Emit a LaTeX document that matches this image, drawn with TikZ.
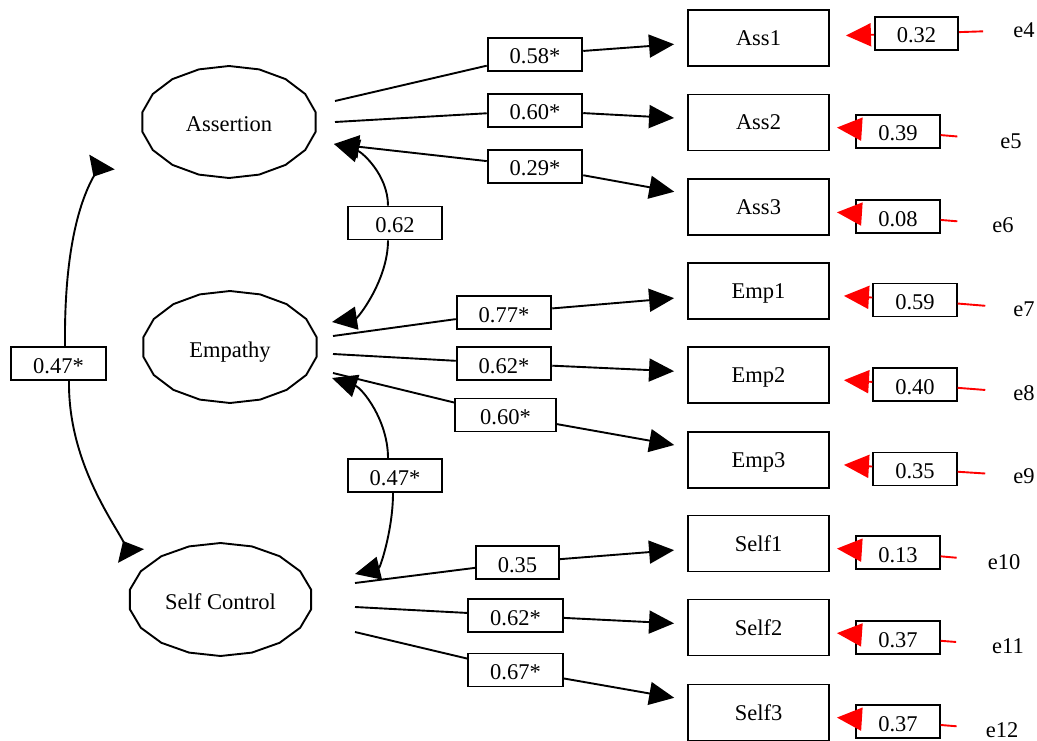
\documentclass[tikz,border=0pt]{standalone}
\usepackage{fontspec}
\setmainfont{Liberation Serif}
\usetikzlibrary{shapes.geometric,arrows.meta}

\tikzset{
  every node/.style={font=\fontsize{22.5}{26}\selectfont},
  latent/.style={ellipse, inner sep=0pt, minimum width=176pt, minimum height=112pt, text height=20pt, text depth=0pt},
  obs/.style={draw, line width=1.9pt, minimum width=141pt, minimum height=56pt, inner sep=0pt, text height=15pt, text depth=0pt},
  coef/.style={draw, fill=white, line width=1.9pt, minimum height=33pt, inner xsep=22pt, inner ysep=0pt, text height=19pt, text depth=0pt},
  errnode/.style={inner sep=2pt},
  seg/.style={line width=1.9pt},
  endhead/.style={-{Triangle[length=25pt,width=23pt]}},
  revhead/.style={-{Triangle[reversed,length=17pt,width=29pt]}},
  load/.style={seg, endhead, shorten >=13pt},
  resid/.style={red, line width=1.9pt},
}

\begin{document}
\begin{tikzpicture}[x=1pt,y=-1pt]
	\useasboundingbox (0,0) rectangle (1037,741);
	% latent variables
	\node[latent] (ass) at (229,122) {Assertion};
	\node[latent] (emp) at (230,347) {Empathy};
	\node[latent, minimum width=184pt, minimum height=113pt] (sc) at (220.5,599.5) {Self Control};
	\foreach \n/\rx/\ry in {ass/88/56, emp/88/56, sc/92/56.5}
		\draw[seg, shift={(\n.center)}] plot[samples at={10,30,...,350}] ({\rx*cos(\x)},{\ry*sin(\x)}) -- cycle;
	
	% indicators
	\node[obs] (ass1) at (758.5,38) {Ass1};
	\node[obs] (ass2) at (758.5,122.5) {Ass2};
	\node[obs] (ass3) at (758.5,207) {Ass3};
	\node[obs] (emp1) at (758.5,291) {Emp1};
	\node[obs] (emp2) at (758.5,375) {Emp2};
	\node[obs] (emp3) at (758.5,460) {Emp3};
	\node[obs] (self1) at (758.5,543.5) {Self1};
	\node[obs] (self2) at (758.5,627.5) {Self2};
	\node[obs] (self3) at (758.5,712.5) {Self3};
	
	% ports beside the latent variables
	\coordinate (pa1) at (335,101);
	\coordinate (pa2) at (335,122);
	\coordinate (pa3) at (334,144);
	\coordinate (pe0) at (332,322);
	\coordinate (pe1) at (333,336);
	\coordinate (pe2) at (333,354);
	\coordinate (pe3) at (333,373);
	\coordinate (pe4) at (332,378);
	\coordinate (ps0) at (355,574);
	\coordinate (ps1) at (355,583);
	\coordinate (ps2) at (355,607);
	\coordinate (ps3) at (355,632);
	\coordinate (pat) at (102,162);
	\coordinate (psc) at (131,556);
	
	% coefficients
	\node[coef] (la1) at (535,54.5) {0.58*};
	\node[coef] (la2) at (535,110.5) {0.60*};
	\node[coef] (la3) at (535,166.5) {0.29*};
	\node[coef] (le1) at (504,312.5) {0.77*};
	\node[coef] (le2) at (504,363.5) {0.62*};
	\node[coef, minimum width=101pt] (le3) at (505.5,415) {0.60*};
	\node[coef] (ls1) at (517.5,562.5) {0.35};
	\node[coef] (ls2) at (515.5,615.5) {0.62*};
	\node[coef] (ls3) at (515.5,670) {0.67*};
	\node[coef, minimum width=94pt] (cae) at (395,223) {0.62};
	\node[coef] (ces) at (395,475.5) {0.47*};
	\node[coef] (cas) at (58.5,363.5) {0.47*};
	
	% loadings
	\draw[seg] (pa1) -- (la1); \draw[load] (la1) -- (ass1);
	\draw[seg] (pa2) -- (la2); \draw[load] (la2) -- (ass2);
	\draw[seg, endhead] (la3) -- (pa3); \draw[load] (la3) -- (ass3);
	\draw[seg] (pe1) -- (le1); \draw[load] (le1) -- (emp1);
	\draw[seg] (pe2) -- (le2); \draw[load] (le2) -- (emp2);
	\draw[seg] (pe3) -- (le3); \draw[load] (le3) -- (emp3);
	\draw[seg] (ps1) -- (ls1); \draw[load] (ls1) -- (self1);
	\draw[seg] (ps2) -- (ls2); \draw[load] (ls2) -- (self2);
	\draw[seg] (ps3) -- (ls3); \draw[load] (ls3) -- (self3);
	
	% correlations
	\draw[seg, endhead] ([xshift=-7pt]cae.north) .. controls (388,175) and (362,152) .. (pa3);
	\draw[seg, endhead] ([xshift=-7pt]cae.south) .. controls (388,280) and (358,318) .. (pe0);
	\draw[seg, endhead] ([xshift=-7pt]ces.north) .. controls (388,420) and (362,388) .. (pe4);
	\draw[seg, endhead] ([xshift=-2pt]ces.south) .. controls (393,530) and (380,568) .. (ps0);
	\draw[seg, revhead] ([xshift=6.5pt]cas.north) .. controls (64,250) and (80,200) .. (pat);
	\draw[seg, revhead] ([xshift=10.5pt]cas.south) .. controls (68,460) and (112,520) .. (psc);
	
	% residuals
	\node[coef] (r4) at (916.5,33.5) {0.32};
	\node[coef] (r5) at (898,131.5) {0.39};
	\node[coef] (r6) at (898,216.5) {0.08};
	\node[coef] (r7) at (915,300) {0.59};
	\node[coef] (r8) at (915,384.5) {0.40};
	\node[coef] (r9) at (915,469) {0.35};
	\node[coef] (r10) at (898,552.5) {0.13};
	\node[coef] (r11) at (898,637.5) {0.37};
	\node[coef] (r12) at (898,721.5) {0.37};
	\node[errnode] (err4) at (1024,30) {e4};
	\node[errnode] (err5) at (1011,141) {e5};
	\node[errnode] (err6) at (1003,225) {e6};
	\node[errnode] (err7) at (1024,309) {e7};
	\node[errnode] (err8) at (1024,393) {e8};
	\node[errnode] (err9) at (1024,476) {e9};
	\node[errnode] (err10) at (1004,562) {e10};
	\node[errnode] (err11) at (1008,646) {e11};
	\node[errnode] (err12) at (1002,730) {e12};
	
	\draw[resid, shorten <=28pt] (err4) -- (r4); \draw[resid, endhead, shorten >=16pt] (r4) -- (ass1);
	\draw[resid, shorten <=41pt] (err5) -- (r5); \draw[resid, endhead, shorten >=7pt] (r5) -- (ass2);
	\draw[resid, shorten <=33pt] (err6) -- (r6); \draw[resid, endhead, shorten >=7pt] (r6) -- (ass3);
	\draw[resid, shorten <=26pt] (err7) -- (r7); \draw[resid, endhead, shorten >=14pt] (r7) -- (emp1);
	\draw[resid, shorten <=26pt] (err8) -- (r8); \draw[resid, endhead, shorten >=14pt] (r8) -- (emp2);
	\draw[resid, shorten <=26pt] (err9) -- (r9); \draw[resid, endhead, shorten >=14pt] (r9) -- (emp3);
	\draw[resid, shorten <=29pt] (err10) -- (r10); \draw[resid, endhead, shorten >=7pt] (r10) -- (self1);
	\draw[resid, shorten <=34pt] (err11) -- (r11); \draw[resid, endhead, shorten >=7pt] (r11) -- (self2);
	\draw[resid, shorten <=27pt] (err12) -- (r12); \draw[resid, endhead, shorten >=7pt] (r12) -- (self3);
\end{tikzpicture}
\end{document}
